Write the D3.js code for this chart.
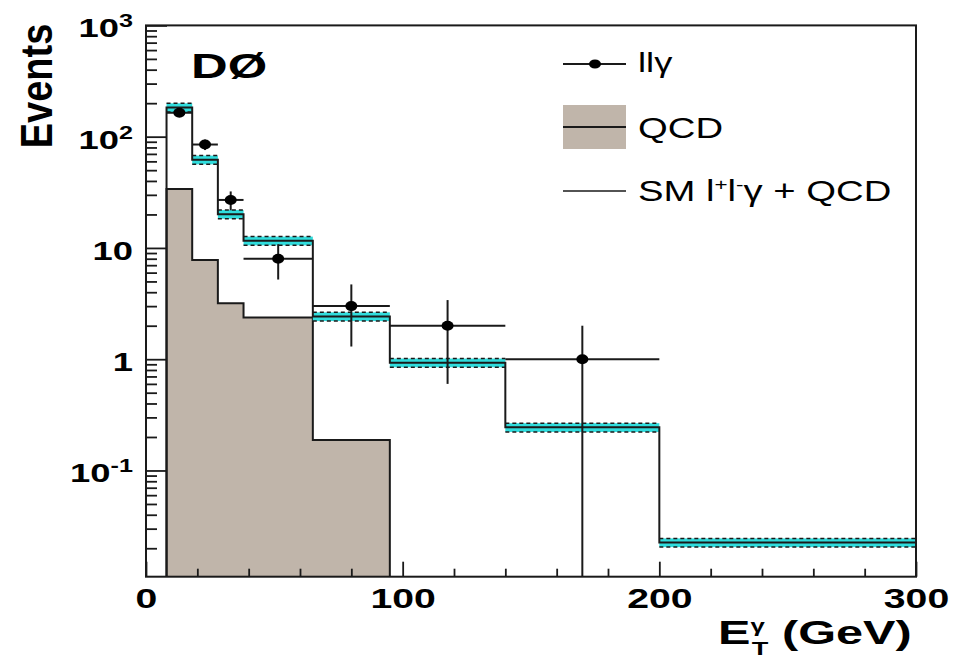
<!DOCTYPE html>
<html>
<head>
<meta charset="utf-8">
<script src="https://cdn.jsdelivr.net/npm/d3@7"></script>
<style>
  body { margin: 0; background: #fff; }
  svg { display: block; font-family: "Liberation Sans", Arial, Helvetica, sans-serif; }
</style>
</head>
<body>
<svg id="chart" width="954" height="662"></svg>
<script>
// bin edges in GeV and contents
const binEdges   = [8, 18, 28, 38, 65, 95, 140, 200, 300];
const smTotal    = [183, 62, 20.1, 11.6, 2.42, 0.93, 0.244, 0.0225];
const smRelErr   = [0.09, 0.09, 0.09, 0.09, 0.09, 0.09, 0.09, 0.09];
const qcdCounts  = [33.9, 7.8, 3.19, 2.37, 0.188, 0, 0, 0];
const dataCounts = [164, 85, 27, 8, 3, 2, 1];
const dataErr    = [12.8, 9.2, 5.2, 2.8, 1.7, 1.4, 1.0];

const yMajor = [0.1, 1, 10, 100, 1000];
const yMajorLabels = [["10", "-1"], ["1", ""], ["10", ""], ["10", "2"], ["10", "3"]];
const xMajor = [0, 100, 200, 300];

const width = 954, height = 662;
const margin = {top: 25.4, right: 38, bottom: 85.3, left: 146};
const x0 = margin.left, x1 = width - margin.right;
const y0 = height - margin.bottom, y1 = margin.top;

const qcdFill = "#c0b5aa";
const bandFill = "#30dcdc";
const ink = "#1a1a1a";

const svg = d3.select("#chart");

const x = d3.scaleLinear().domain([0, 300]).range([x0, x1]);
const y = d3.scaleLog().domain([0.0111, 1000]).range([y0, y1]);

// squeeze glyphs horizontally like the reference (it's a stretched scan)
function stretch(sel, sx) {
	sel.each(function() {
		const t = d3.select(this);
		const tx = +t.attr("x") || 0, ty = +t.attr("y") || 0;
		t.attr("x", 0).attr("y", 0)
		 .attr("transform", `translate(${tx},${ty}) scale(${sx},1)`);
	});
}

const bins = smTotal.map((v, i) => ({lo: binEdges[i], hi: binEdges[i + 1], sm: v, err: smRelErr[i], qcd: qcdCounts[i]}));

// QCD filled histogram
const qcdBins = bins.filter(b => b.qcd > 0);
let qcdPts = [[x(qcdBins[0].lo), y0]];
qcdBins.forEach(b => { qcdPts.push([x(b.lo), y(b.qcd)], [x(b.hi), y(b.qcd)]); });
qcdPts.push([x(qcdBins[qcdBins.length - 1].hi), y0]);

svg.append("path")
	.attr("d", d3.line()(qcdPts))
	.attr("fill", qcdFill)
	.attr("stroke", ink)
	.attr("stroke-width", 2);

// uncertainty band on SM + QCD
const band = svg.append("g");
band.selectAll("rect")
	.data(bins)
	.join("rect")
		.attr("x", d => x(d.lo))
		.attr("width", d => x(d.hi) - x(d.lo))
		.attr("y", d => y(d.sm * (1 + d.err)))
		.attr("height", d => y(d.sm * (1 - d.err)) - y(d.sm * (1 + d.err)))
		.attr("fill", bandFill);

[1, -1].forEach(s => {
	band.append("g").selectAll("line")
		.data(bins)
		.join("line")
			.attr("x1", d => x(d.lo))
			.attr("x2", d => x(d.hi))
			.attr("y1", d => y(d.sm * (1 + s * d.err)))
			.attr("y2", d => y(d.sm * (1 + s * d.err)))
			.attr("stroke", ink)
			.attr("stroke-width", 1.5)
			.attr("stroke-dasharray", "4,3");
});

// SM step line
let smPts = [[x(bins[0].lo), y0]];
bins.forEach(b => { smPts.push([x(b.lo), y(b.sm)], [x(b.hi), y(b.sm)]); });
smPts.push([x(bins[bins.length - 1].hi), y0]);

svg.append("path")
	.attr("d", d3.line()(smPts))
	.attr("fill", "none")
	.attr("stroke", ink)
	.attr("stroke-width", 2);

// data points with error bars
const pts = dataCounts.map((v, i) => ({
	lo: binEdges[i], hi: binEdges[i + 1], c: (binEdges[i] + binEdges[i + 1]) / 2,
	v: v, e: dataErr[i]
}));
const yMin = y.domain()[0];
const dp = svg.append("g").attr("stroke", ink).attr("stroke-width", 2);
dp.selectAll(".h")
	.data(pts)
	.join("line")
		.attr("x1", d => x(d.lo)).attr("x2", d => x(d.hi))
		.attr("y1", d => y(d.v)).attr("y2", d => y(d.v));
dp.selectAll(".v")
	.data(pts)
	.join("line")
		.attr("x1", d => x(d.c)).attr("x2", d => x(d.c))
		.attr("y1", d => y(d.v + d.e))
		.attr("y2", d => y(Math.max(d.v - d.e, yMin)));
svg.append("g").selectAll("ellipse")
	.data(pts)
	.join("ellipse")
		.attr("cx", d => x(d.c))
		.attr("cy", d => y(d.v))
		.attr("rx", 6)
		.attr("ry", 5)
		.attr("fill", "#000");

// axes, ticks drawn inward
const yAll = y.ticks().filter(t => t >= y.domain()[0] && t <= 1000);
const yMinor = yAll.filter(t => !yMajor.some(m => Math.abs(m - t) / m < 1e-6));

svg.append("g")
	.attr("transform", `translate(${x0},0)`)
	.call(d3.axisLeft(y).tickValues(yMinor).tickSize(-11).tickFormat(""))
	.call(g => g.select(".domain").remove())
	.call(g => g.selectAll("line").attr("stroke", ink).attr("stroke-width", 1.8));

const yAxis = svg.append("g")
	.attr("transform", `translate(${x0},0)`)
	.call(d3.axisLeft(y).tickValues(yMajor).tickSize(-21).tickPadding(13).tickFormat(""))
	.call(g => g.select(".domain").remove())
	.call(g => g.selectAll("line").attr("stroke", ink).attr("stroke-width", 1.8));

yAxis.selectAll(".tick text")
	.attr("dy", null)
	.attr("y", 11.5)
	.attr("fill", "#000")
	.style("font-size", "26px")
	.style("font-weight", "bold")
	.each(function(d, i) {
		const t = d3.select(this);
		const lab = yMajorLabels[i];
		t.append("tspan").text(lab[0]);
		if (lab[1]) t.append("tspan").attr("dy", -10).style("font-size", "18px").text(lab[1]);
	})
	.call(stretch, 1.4);

const xMinor = d3.range(20, 300, 20).filter(v => !xMajor.includes(v));
svg.append("g")
	.attr("transform", `translate(0,${y0})`)
	.call(d3.axisBottom(x).tickValues(xMinor).tickSize(-8).tickFormat(""))
	.call(g => g.select(".domain").remove())
	.call(g => g.selectAll("line").attr("stroke", ink).attr("stroke-width", 1.8));

const xAxis = svg.append("g")
	.attr("transform", `translate(0,${y0})`)
	.call(d3.axisBottom(x).tickValues(xMajor).tickSize(-15).tickPadding(11).tickFormat(d3.format("d")))
	.call(g => g.select(".domain").remove())
	.call(g => g.selectAll("line").attr("stroke", ink).attr("stroke-width", 1.8));

xAxis.selectAll(".tick text")
	.attr("dy", null)
	.attr("y", 31)
	.attr("fill", "#000")
	.style("font-size", "28px")
	.style("font-weight", "bold")
	.call(stretch, 1.4);

// frame
svg.append("rect")
	.attr("x", x0).attr("y", y1)
	.attr("width", x1 - x0).attr("height", y0 - y1)
	.attr("fill", "none")
	.attr("stroke", ink)
	.attr("stroke-width", 2);

// axis titles
svg.append("text")
	.attr("transform", `translate(52,86) scale(1.15,1) rotate(-90)`)
	.attr("text-anchor", "middle")
	.style("font-size", "38px")
	.style("font-weight", "bold")
	.text("Events");

const xt = svg.append("text")
	.attr("x", 718).attr("y", 644)
	.style("font-size", "34px")
	.style("font-weight", "bold");
xt.append("tspan").text("E");
xt.append("tspan").attr("dy", -12).style("font-size", "18px").text("γ");
xt.append("tspan").attr("dx", -9).attr("dy", 23).style("font-size", "19px").text("T");
xt.append("tspan").attr("dy", -11).text(" (GeV)");
xt.call(stretch, 1.43);

svg.append("text")
	.attr("x", 191).attr("y", 78)
	.style("font-size", "35px")
	.style("font-weight", "bold")
	.text("DØ")
	.call(stretch, 1.45);

// legend
const lg = svg.append("g");
lg.append("line").attr("x1", 563).attr("x2", 626).attr("y1", 64).attr("y2", 64)
	.attr("stroke", ink).attr("stroke-width", 2);
lg.append("ellipse").attr("cx", 595).attr("cy", 64).attr("rx", 6).attr("ry", 4.5).attr("fill", "#000");
lg.append("rect").attr("x", 563).attr("y", 105).attr("width", 63).attr("height", 44).attr("fill", qcdFill);
lg.append("line").attr("x1", 563).attr("x2", 626).attr("y1", 127).attr("y2", 127)
	.attr("stroke", ink).attr("stroke-width", 2);
lg.append("line").attr("x1", 563).attr("x2", 626).attr("y1", 191).attr("y2", 191)
	.attr("stroke", ink).attr("stroke-width", 1.5);

lg.append("text").attr("x", 638).attr("y", 72).style("font-size", "28px").text("llγ").call(stretch, 1.3);
lg.append("text").attr("x", 638).attr("y", 138).style("font-size", "29px").text("QCD").call(stretch, 1.32);
const sm = lg.append("text").attr("x", 638).attr("y", 201).style("font-size", "29px");
sm.append("tspan").text("SM l");
sm.append("tspan").attr("dy", -11).style("font-size", "17px").text("+");
sm.append("tspan").attr("dy", 11).text("l");
sm.append("tspan").attr("dy", -11).style("font-size", "17px").text("-");
sm.append("tspan").attr("dy", 11).text("γ + QCD");
sm.call(stretch, 1.32);
</script>
</body>
</html>
